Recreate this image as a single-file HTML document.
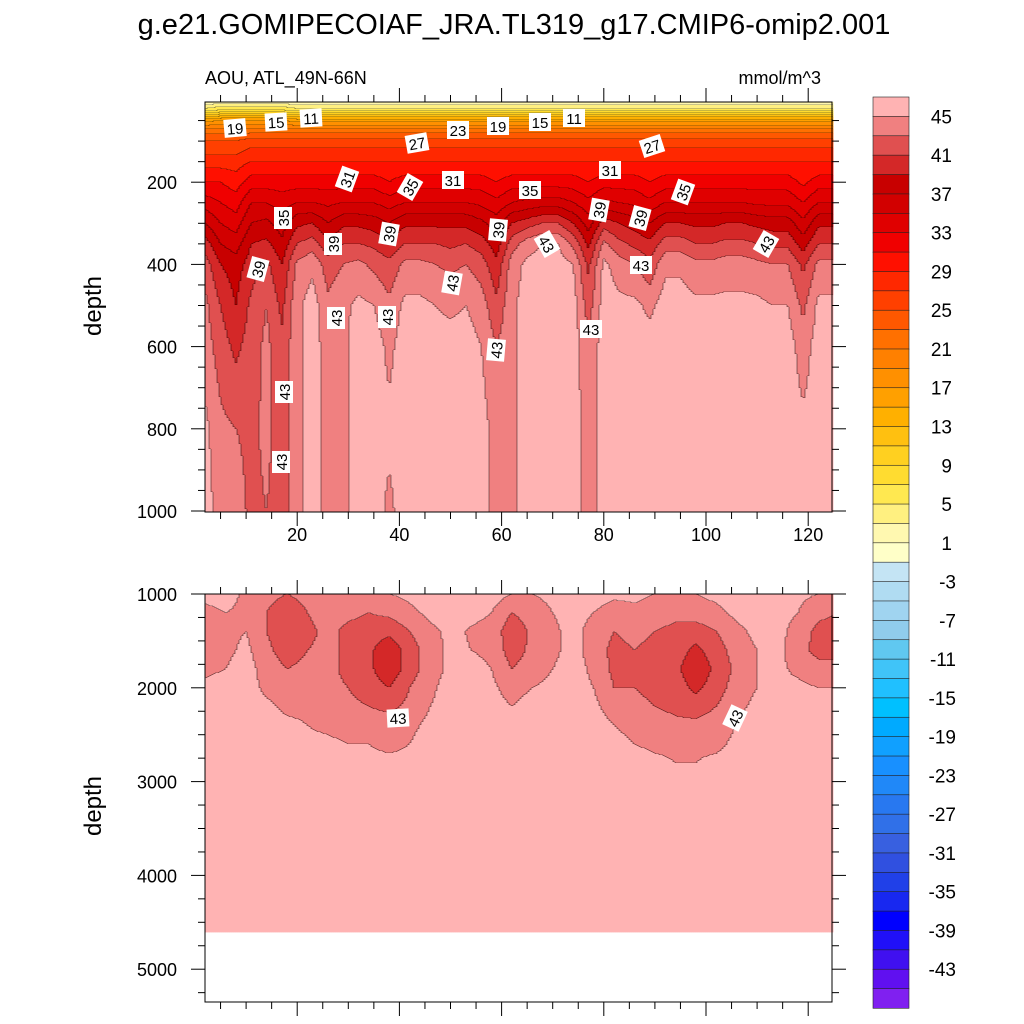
<!DOCTYPE html>
<html><head><meta charset="utf-8">
<style>
html,body{margin:0;padding:0;background:#fff;}
svg{display:block;font-family:"Liberation Sans",Arial,sans-serif;}
</style></head>
<body>
<svg id="chart" width="1024" height="1024" viewBox="0 0 1024 1024" xmlns="http://www.w3.org/2000/svg">
<rect width="1024" height="1024" fill="#fff"/>
<text x="514" y="34" font-size="29" text-anchor="middle">g.e21.GOMIPECOIAF_JRA.TL319_g17.CMIP6-omip2.001</text>
<text x="205" y="84" font-size="18">AOU, ATL_49N-66N</text>
<text x="821" y="84" font-size="18" text-anchor="end">mmol/m^3</text>
<text transform="translate(101,306) rotate(-90)" font-size="24" text-anchor="middle">depth</text>
<text transform="translate(101,806) rotate(-90)" font-size="24" text-anchor="middle">depth</text>
<g id="topPanel"></g>
<g id="botPanel"></g>
<g id="labels"></g>
<g id="axes"></g>
<g id="cbar"></g>
</svg>
<script>
const NS="http://www.w3.org/2000/svg";
const levelColors=["#8020F0","#6010F0","#4010F0","#2010F8","#0000FF","#1828F0","#2040E8","#3050E0","#3860E0","#3070E8","#2878F0","#2088F8","#1890FF","#10A0FF","#00AAFF","#00C0FF","#20C0FF","#40C4F8","#60C8F0","#90CCEC","#A0D4F0","#B0DCF2","#C4E4F4",
"#FFFFC8","#FFF8B0","#FFF080","#FFE850","#FFDC30","#FFD020","#FFC010","#FFB000","#FFA000","#FF9000","#FF8000","#FF7000","#FF5800","#FF4000","#FF2800","#FF1000","#F00000","#E00000","#D20000","#C80000","#D42828","#E05050","#F08080","#FFB3B3"];
const cbarLabels=[45,41,37,33,29,25,21,17,13,9,5,1,-3,-7,-11,-15,-19,-23,-27,-31,-35,-39,-43];
const topXTicks=[20,40,60,80,100,120];
const topYTicks=[200,400,600,800,1000];
const botYTicks=[1000,2000,3000,4000,5000];

const topX=[2,5,8,11,14,17,20,23,26,29,32,35,38,41,44,47,50,53,56,59,62,65,68,71,74,77,80,83,86,89,92,95,98,101,104,107,110,113,116,119,122,125];
const topDepths=[5,25,50,75,100,150,200,250,300,350,400,500,600,800,1000];
const topVals=[
[1,6,16,22,25,28,31,34,37,40,42,43.5,44,45.5,46],
[2,7,17,22,25,28,31,33,35,37,39,41,42,43.5,44],
[2,7,17,22,25,28,30,32,34,36,38,39,40.5,43,44],
[2,7,17,22,26,29,32,35,37,39,40,41.5,42,42.5,42.5],
[2,7,17,22,26,29,32,35,37.5,39.5,41.5,43,43.5,43.5,43],
[2,7,17,22,26,29,32,34,36,37.5,39,40.5,41.5,42,42],
[1,6,16,22,26,29,32,35,38.5,41,43.5,44.5,44.5,44.5,44.5],
[1,6,16,22,26,29,32,35,39,42,44.5,46,46,46,46],
[1,6,16,22,26,29,32,34.5,37,39.5,42,43.5,44,44,44],
[1,6,16,22,26,29,32,35,38.5,41,43,44.5,44.5,44.5,44.5],
[1,6,16,22,26,29,32,35,38.5,41,43.5,45.5,46,46,46],
[1,6,16,22,26,29,32,35,38,40.5,42.5,45,46,46,46],
[1,6,16,22,26,29,31,34,37,39.5,41.5,43.5,44.5,45.5,44.5],
[1,6,16,22,26,29,32,35,38.5,41,43.5,45.5,46,46,46],
[1,6,16,22,26,29,32,35,38.5,41,43.5,45.5,46,46,46],
[1,6,16,22,26,29,32,35,38.5,41,43,45,46,46,46],
[1,6,16,22,26,29,32,35,38.5,40.5,42.5,44.5,46,46,46],
[1,6,16,22,26,29,32,35,38.5,41,43,45,46,46,46],
[1,6,16,22,26,29,32,34.5,37.5,40,42,44,45,46,46],
[1,6,16,22,26,29,31,33.5,36,38,39.5,41.5,43,44,44],
[1,6,16,22,26,29,32,35,39,42,44,44.5,44.5,44.5,44.5],
[1,6,16,22,26,29,32,35.5,40,44,45.5,46,46,46,46],
[1,6,16,22,26,29,32,36,41,45,46,46,46,46,46],
[1,6,16,22,26,29,32,36,41,45,46,46,46,46,46],
[1,6,16,22,26,29,32,35,39,42.5,45,46,46,46,46],
[1,6,16,22,26,29,31,33.5,36,38.5,40.5,42,43.5,44,44],
[1,6,16,22,26,29,32,35.5,40,43.5,45.5,46,46,46,46],
[1,6,16,22,26,29,32,35,39,41.5,44,45.5,46,46,46],
[1,6,16,22,26,29,32,34.5,38,40.5,43,45.5,46,46,46],
[1,6,16,22,26,29,31,33.5,37,39.5,41.5,44.5,46,46,46],
[1,6,16,22,26,29,32,35,39,42,44.5,46,46,46,46],
[1,6,16,22,26,29,32,35,39,42,44.5,46,46,46,46],
[1,6,16,22,26,29,32,35,38.5,41,43.5,45.5,46,46,46],
[1,6,16,22,26,29,32,35,38.5,41,43.5,45.5,46,46,46],
[1,6,16,22,26,29,32,35,39,41.5,44,45.5,46,46,46],
[1,6,16,22,26,29,32,35,39,41.5,44,45.5,46,46,46],
[1,6,16,22,26,29,32,34.5,38.5,41,43.5,45.5,46,46,46],
[1,6,16,22,26,29,32,34.5,38,40.5,43,45,46,46,46],
[1,6,16,22,26,29,32,34.5,38,40.5,43,45,46,46,46],
[1,6,16,22,26,29,30.5,33,35.5,38,40.5,42.5,44,45.5,45.5],
[1,6,16,22,26,29,32,35,38.5,41,43.5,45.5,46,46,46],
[1,6,16,22,26,29,32,35,38.5,41,43.5,45.5,46,46,46]
];

const botX=[2,6,10,14,18,22,26,30,34,38,42,46,50,54,58,62,66,70,74,78,82,86,90,94,98,102,106,110,114,118,122,126];
const botDepths=[1000,1200,1400,1600,1800,2000,2200,2400,2600,2800,3000,3500,4000,4600];
const botVals=[
[45.5,44.5,44,44,44.5,45.5,46,46,46,46,46,46,46,46],
[46,45,44.5,44.5,45,46,46,46,46,46,46,46,46,46],
[44.5,44.5,45,45.5,46,46,46,46,46,46,46,46,46,46],
[43.5,43,43,43.5,44,44.5,45.5,46,46,46,46,46,46,46],
[43,42,41.5,42,43,43.5,44.5,45.5,46,46,46,46,46,46],
[43.5,43,42.5,43,43.5,44,44.5,45,45.5,46,46,46,46,46],
[45,44,43.5,43.5,43.5,43.5,44,44.5,45.5,46,46,46,46,46],
[44.5,43.5,42.5,42.5,42.5,43,43.5,44,45,46,46,46,46,46],
[44,43,42,41.5,41.5,42,43,44,45,45.5,46,46,46,46],
[45,43.5,41.5,39.5,39.5,41,42.5,44,44.5,45.5,46,46,46,46],
[45.5,44.5,43,42,42,43,43.5,44.5,45,45.5,46,46,46,46],
[46,45.5,44.5,44,44,44.5,45,45.5,46,46,46,46,46,46],
[46,46,45.5,45.5,45.5,46,46,46,46,46,46,46,46,46],
[46,45.5,44.8,45,45.8,46,46,46,46,46,46,46,46,46],
[46,45,44.5,44.5,45,45.5,46,46,46,46,46,46,46,46],
[45,43,41.5,42,43,44,45,46,46,46,46,46,46,46],
[45,44,43.5,43.5,44,45,46,46,46,46,46,46,46,46],
[45.5,45,44.5,44.5,45,45.5,46,46,46,46,46,46,46,46],
[46,46,45.8,45.8,46,46,46,46,46,46,46,46,46,46],
[46,45,44,44,44.5,45,45.5,46,46,46,46,46,46,46],
[45.5,44,43,42.5,42.5,43,44,45,45.5,46,46,46,46,46],
[45.5,44.5,43.5,43,43,43,43.5,44.5,45,46,46,46,46,46],
[45,44,43,42.5,42.5,42.5,43,44,44.5,45.5,46,46,46,46],
[44.5,43.5,42.5,42,41.5,42,42.5,43.5,44.5,45,46,46,46,46],
[45,44,42,40.5,39.5,40.5,42,43.5,44.5,45,46,46,46,46],
[45.5,44.5,43,42,41.5,42,43,44,44.5,45.5,46,46,46,46],
[46,45.5,44.5,44,43.5,44,44.5,45,45.5,46,46,46,46,46],
[46,46,45.5,45,45,45,45.5,46,46,46,46,46,46,46],
[46,46,45.8,45.8,45.5,45.5,46,46,46,46,46,46,46,46],
[45.5,45,44,43.5,44.5,45.5,46,46,46,46,46,46,46,46],
[45,43.5,42.5,42.5,43.5,45,46,46,46,46,46,46,46,46],
[45,43,42,42.5,43.5,45,46,46,46,46,46,46,46,46]
];
const botMaxDepth=4600;

const PX0=205, PX1=832;
function xPix(x){return 195+(x)*5.11;}
function xVal(px){return (px-195)/5.11;}
const TOP={y0:102,y1:512};
function topYPix(d){return 100+d*0.411;}
function topDepth(py){return (py-100)/0.411;}
const BOT={y0:594,y1:1002};
function botYPix(d){return 594+(d-1000)*0.0938;}
function botDepth(py){return 1000+(py-594)/0.0938;}
function levelIndex(v){let i=Math.floor((v+45)/2)+1;return Math.max(0,Math.min(46,i));}
function interp1(arr,t){
  if(t<=arr[0])return [0,0,0];
  if(t>=arr[arr.length-1])return [arr.length-1,arr.length-1,0];
  for(let i=0;i<arr.length-1;i++){if(t>=arr[i]&&t<=arr[i+1])return [i,i+1,(t-arr[i])/(arr[i+1]-arr[i])];}
  return [0,0,0];
}
function fieldVal(xs,ds,vals,x,d){
  const [i0,i1,fx]=interp1(xs,x);
  const [j0,j1,fd]=interp1(ds,d);
  const a=vals[i0][j0]*(1-fd)+vals[i0][j1]*fd;
  const b=vals[i1][j0]*(1-fd)+vals[i1][j1]*fd;
  return a*(1-fx)+b*fx;
}
function drawPanel(g,xs,ds,vals,y0,y1,depthFn,maxDepth,name){
  const W=2;
  let prevCol=null;
  for(let px=PX0;px<PX1;px+=W){
    const x=xVal(px+W/2);
    let runStart=y0,runIdx=null;
    const col=[];
    for(let py=y0;py<=y1;py++){
      const d=depthFn(py+0.5);
      let idx=(maxDepth&&d>maxDepth)?-1:(py<y1?levelIndex(fieldVal(xs,ds,vals,x,d)):-2);
      col.push(idx);
      if(runIdx===null){runIdx=idx;runStart=py;continue;}
      if(idx!==runIdx){
        if(runIdx>=0){
          const r=document.createElementNS(NS,'rect');
          r.setAttribute('x',px);r.setAttribute('y',runStart);r.setAttribute('width',W+0.4);r.setAttribute('height',py-runStart+0.4);
          r.setAttribute('fill',levelColors[runIdx]);
          
          
          g.appendChild(r);
          if(idx>=0){
            const l=document.createElementNS(NS,'rect');
            l.setAttribute('x',px);l.setAttribute('y',py-0.4);l.setAttribute('width',W);l.setAttribute('height',0.8);
            l.setAttribute('fill','#000');l.setAttribute('opacity','0.55');
            
            
            g.appendChild(l);
          }
        }
        runIdx=idx;runStart=py;
      }
    }
    if(prevCol){
      for(let k=0;k<col.length-1;k++){
        if(col[k]>=0&&prevCol[k]>=0&&col[k]!==prevCol[k]){
          const l=document.createElementNS(NS,'rect');
          l.setAttribute('x',px-0.4);l.setAttribute('y',y0+k);l.setAttribute('width',0.8);l.setAttribute('height',1);
          l.setAttribute('fill','#000');l.setAttribute('opacity','0.55');
          
          
          g.appendChild(l);
        }
      }
    }
    prevCol=col;
  }
}
drawPanel(document.getElementById('topPanel'),topX,topDepths,topVals,TOP.y0,TOP.y1,topDepth,null,'top');
drawPanel(document.getElementById('botPanel'),botX,botDepths,botVals,BOT.y0,BOT.y1,botDepth,botMaxDepth,'bottom');

const lbls=[[19,235,128,-5],[15,276,122,-3],[11,311,118,-3],[27,417,143,-10],[23,458,130,0],[19,498,126,0],[15,540,122,0],[11,574,118,0],[27,652,146,-18],
[31,347,179,-70],[35,410,187,-60],[31,453,180,0],[35,530,190,0],[31,610,170,0],[35,683,192,-70],[35,283,218,-90],[39,333,244,-90],[39,389,234,-80],
[39,498,230,-85],[43,547,244,60],[39,599,210,-80],[39,640,218,-75],[43,766,244,-60],[39,258,269,-75],[43,452,283,-80],[43,641,265,0],[43,336,318,-90],
[43,387,317,-90],[43,496,350,-85],[43,591,329,0],[43,284,392,-90],[43,281,462,-90],[43,398,718,-3],[43,735,718,-65]];
const lg=document.getElementById('labels');
lbls.forEach(l=>{
  const g=document.createElementNS(NS,'g');
  g.setAttribute('transform',`translate(${l[1]},${l[2]}) rotate(${l[3]})`);
  
  
  g.innerHTML=`<rect x="-11" y="-9" width="22" height="18" fill="#fff"/><text x="0" y="6" font-size="15" text-anchor="middle">${l[0]}</text>`;
  lg.appendChild(g);
});

const ax=document.getElementById('axes');
function line(x1,y1,x2,y2,name){
  const l=document.createElementNS(NS,'line');
  l.setAttribute('x1',x1);l.setAttribute('y1',y1);l.setAttribute('x2',x2);l.setAttribute('y2',y2);
  l.setAttribute('stroke','#000');l.setAttribute('stroke-width','1');
  
  
  ax.appendChild(l);
}
function txt(x,y,s,anchor,name,size){
  const t=document.createElementNS(NS,'text');
  t.setAttribute('x',x);t.setAttribute('y',y);t.setAttribute('font-size',size||18);t.setAttribute('text-anchor',anchor);
  t.textContent=s;
  
  
  ax.appendChild(t);
}
[[TOP.y0,TOP.y1],[BOT.y0,BOT.y1]].forEach(([a,b],pi)=>{
  const r=document.createElementNS(NS,'rect');
  r.setAttribute('x',PX0);r.setAttribute('y',a);r.setAttribute('width',PX1-PX0);r.setAttribute('height',b-a);
  r.setAttribute('fill','none');r.setAttribute('stroke','#000');r.setAttribute('stroke-width','1');
  
  
  ax.appendChild(r);
  for(let x=5;x<=125;x+=5){
    const px=xPix(x);if(px<PX0||px>PX1)continue;
    const maj=x%20===0;const len=maj?14:7;
    line(px,a,px,a-len,'x-tick');line(px,b,px,b+len,'x-tick');
  }
});
topXTicks.forEach(v=>txt(xPix(v),541,String(v),'middle','x-tick-label'));
for(let d=50;d<=1000;d+=50){const py=topYPix(d);if(py<TOP.y0)continue;const maj=d%200===0;const len=maj?14:7;
  line(PX0,py,PX0-len,py,'y-tick');line(PX1,py,PX1+len,py,'y-tick');}
topYTicks.forEach(v=>txt(177,topYPix(v)+7,String(v),'end','y-tick-label'));
for(let d=1000;d<=5250;d+=250){const py=botYPix(d);if(py>BOT.y1)continue;const maj=d%1000===0;const len=maj?14:7;
  line(PX0,py,PX0-len,py,'y-tick');line(PX1,py,PX1+len,py,'y-tick');}
botYTicks.forEach(v=>txt(177,botYPix(v)+7,String(v),'end','y-tick-label'));

const cb=document.getElementById('cbar');
const CB0=97,CB1=1008,CBX=873,CBW=36,bh=(CB1-CB0)/47;
for(let i=46;i>=0;i--){
  const y=CB0+(46-i)*bh;
  const r=document.createElementNS(NS,'rect');
  r.setAttribute('x',CBX);r.setAttribute('y',y);r.setAttribute('width',CBW);r.setAttribute('height',bh+0.3);
  r.setAttribute('fill',levelColors[i]);r.setAttribute('stroke','#222');r.setAttribute('stroke-width','0.6');
  
  
  cb.appendChild(r);
}
cbarLabels.forEach(v=>{
  const idx=Math.round((v+45)/2)+1;
  const y=CB0+(47-idx)*bh;
  const t=document.createElementNS(NS,'text');
  t.setAttribute('x',v<0?956:952);t.setAttribute('y',y+7);t.setAttribute('font-size',19);t.setAttribute('text-anchor','end');
  t.textContent=String(v);
  
  
  cb.appendChild(t);
});
</script>
</body></html>
